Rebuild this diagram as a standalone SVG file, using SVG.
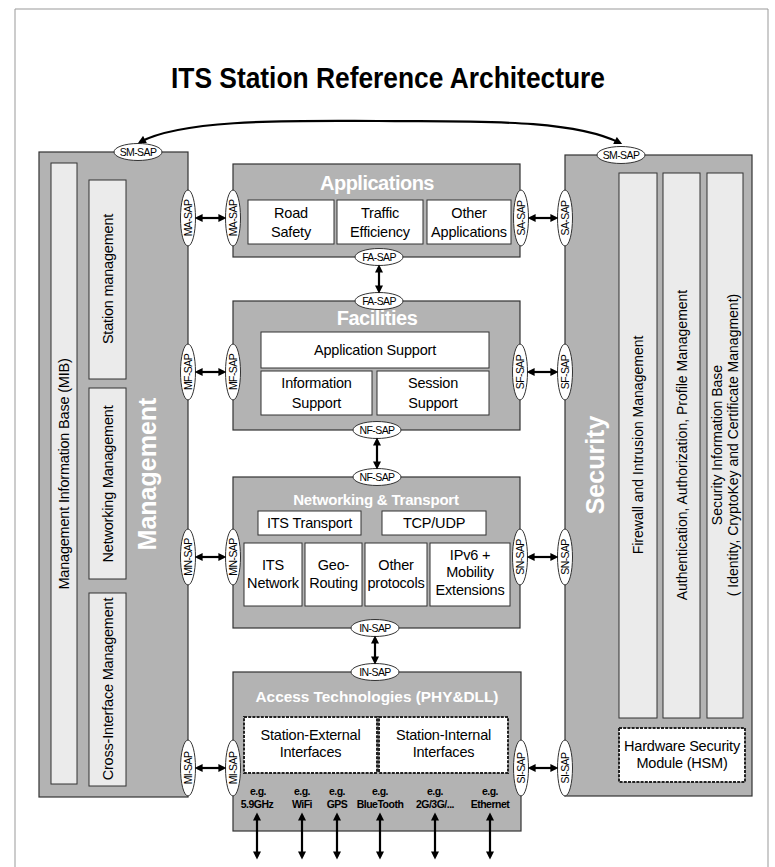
<svg xmlns="http://www.w3.org/2000/svg" width="775" height="867" viewBox="0 0 775 867">
<defs>
<marker id="ah" viewBox="0 0 10 10" refX="7" refY="5" markerWidth="9" markerHeight="8" markerUnits="userSpaceOnUse" orient="auto-start-reverse"><path d="M0,0 L10,5 L0,10 z" fill="#000"/></marker>
</defs>
<style>
text{font-family:"Liberation Sans",Arial,sans-serif;fill:#000}
.box{fill:#b3b3b3;stroke:#333;stroke-width:1.2}
.col{fill:#ebebeb;stroke:#333;stroke-width:1}
.wb{fill:#fff;stroke:#333;stroke-width:1}
.db{fill:#fff;stroke:#222;stroke-width:2;stroke-dasharray:3 1.2}
.sap{fill:#fff;stroke:#333;stroke-width:1}
.st{font-size:10.5px;text-anchor:middle;letter-spacing:-0.6px}
.t13{font-size:14.5px;text-anchor:middle;letter-spacing:-0.2px}
.t14{font-size:14px;text-anchor:middle}
.wt{font-weight:bold;text-anchor:middle;fill:#fff}
.eg{font-size:10.5px;font-weight:bold;text-anchor:middle;letter-spacing:-0.5px}
.con{stroke:#000;stroke-width:2.2;fill:none;marker-start:url(#ah);marker-end:url(#ah)}
</style>
<rect width="775" height="867" fill="#fff"/>
<path d="M15,867 V9 H768 V867" fill="none" stroke="#999" stroke-width="1"/>
<text x="388" y="88" font-size="30" font-weight="bold" text-anchor="middle" textLength="434" lengthAdjust="spacingAndGlyphs">ITS Station Reference Architecture</text>

<g id="management">
<rect class="box" x="39" y="152" width="149" height="645"/>
<rect class="col" x="51" y="163" width="26" height="621"/>
<text class="t13" transform="translate(64,474) rotate(-90)" y="5.2">Management Information Base (MIB)</text>
<rect class="col" x="89" y="180" width="37" height="199"/>
<text class="t13" transform="translate(107.5,279) rotate(-90)" y="5.2">Station management</text>
<rect class="col" x="89" y="388" width="37" height="191"/>
<text class="t13" transform="translate(107.5,484) rotate(-90)" y="5.2">Networking Management</text>
<rect class="col" x="89" y="593" width="37" height="193"/>
<text class="t13" transform="translate(107.5,689) rotate(-90)" y="5.2">Cross-Interface Management</text>
<text class="wt" font-size="25" transform="translate(147,474) rotate(-90)" y="9">Management</text>
</g>

<g id="security">
<rect class="box" x="565" y="155" width="187" height="641"/>
<rect class="col" x="619" y="173" width="38" height="545"/>
<text class="t14" transform="translate(638,445) rotate(-90)" y="5">Firewall and Intrusion Management</text>
<rect class="col" x="663" y="173" width="37" height="545"/>
<text class="t14" transform="translate(681.5,445) rotate(-90)" y="5">Authentication, Authorization, Profile Management</text>
<rect class="col" x="707" y="173" width="36" height="545"/>
<text class="t14" transform="translate(717,445) rotate(-90)" y="5">Security Information Base</text>
<text class="t14" transform="translate(733,445) rotate(-90)" y="5">( Identity, CryptoKey and Certificate Managment)</text>
<rect class="db" x="619" y="728" width="126" height="54"/>
<text class="t13" x="682" y="751">Hardware Security</text>
<text class="t13" x="682" y="768">Module (HSM)</text>
<text class="wt" font-size="25" transform="translate(595,465) rotate(-90)" y="9">Security</text>
</g>

<g id="applications">
<rect class="box" x="233" y="164" width="287" height="93"/>
<text class="wt" font-size="20" x="377" y="190" letter-spacing="-0.5">Applications</text>
<rect class="wb" x="248" y="200" width="86" height="44"/>
<text class="t13" x="291" y="218">Road</text>
<text class="t13" x="291" y="237">Safety</text>
<rect class="wb" x="337" y="200" width="86" height="44"/>
<text class="t13" x="380" y="218">Traffic</text>
<text class="t13" x="380" y="237">Efficiency</text>
<rect class="wb" x="427" y="200" width="84" height="44"/>
<text class="t13" x="469" y="218">Other</text>
<text class="t13" x="469" y="237">Applications</text>
</g>

<g id="facilities">
<rect class="box" x="233" y="301" width="287" height="129"/>
<text class="wt" font-size="20" x="377" y="325" letter-spacing="-0.5">Facilities</text>
<rect class="wb" x="261" y="332" width="228" height="36"/>
<text class="t13" x="375" y="355">Application Support</text>
<rect class="wb" x="261" y="371" width="111" height="44"/>
<text class="t13" x="316.5" y="388">Information</text>
<text class="t13" x="316.5" y="408">Support</text>
<rect class="wb" x="377" y="371" width="112" height="44"/>
<text class="t13" x="433" y="388">Session</text>
<text class="t13" x="433" y="408">Support</text>
</g>

<g id="networking">
<rect class="box" x="233" y="477" width="287" height="151"/>
<text class="wt" font-size="15" x="376" y="505" letter-spacing="-0.2">Networking &amp; Transport</text>
<rect class="wb" x="258" y="511" width="103" height="24"/>
<text class="t13" x="309.5" y="528">ITS Transport</text>
<rect class="wb" x="382" y="511" width="104" height="24"/>
<text class="t13" x="434" y="528">TCP/UDP</text>
<rect class="wb" x="244" y="543" width="58" height="63"/>
<text class="t13" x="273" y="570">ITS</text>
<text class="t13" x="273" y="588">Network</text>
<rect class="wb" x="305" y="543" width="57" height="63"/>
<text class="t13" x="333.5" y="570">Geo-</text>
<text class="t13" x="333.5" y="588">Routing</text>
<rect class="wb" x="365" y="543" width="62" height="63"/>
<text class="t13" x="396" y="570">Other</text>
<text class="t13" x="396" y="588">protocols</text>
<rect class="wb" x="430" y="543" width="80" height="63"/>
<text class="t13" x="470" y="560">IPv6 +</text>
<text class="t13" x="470" y="577">Mobility</text>
<text class="t13" x="470" y="595">Extensions</text>
</g>

<g id="access">
<rect class="box" x="233" y="672" width="288" height="159"/>
<text class="wt" font-size="15.5" x="377" y="702" textLength="243" lengthAdjust="spacingAndGlyphs">Access Technologies (PHY&amp;DLL)</text>
<rect class="db" x="244" y="717" width="133" height="56"/>
<text class="t13" x="310.5" y="740">Station-External</text>
<text class="t13" x="310.5" y="757">Interfaces</text>
<rect class="db" x="379" y="717" width="129" height="56"/>
<text class="t13" x="443.5" y="740">Station-Internal</text>
<text class="t13" x="443.5" y="757">Interfaces</text>
<text class="eg" x="258" y="795">e.g.</text><text class="eg" x="257" y="808">5.9GHz</text>
<text class="eg" x="302" y="795">e.g.</text><text class="eg" x="302" y="808">WiFi</text>
<text class="eg" x="337" y="795">e.g.</text><text class="eg" x="337" y="808">GPS</text>
<text class="eg" x="380" y="795">e.g.</text><text class="eg" x="380" y="808">BlueTooth</text>
<text class="eg" x="435" y="795">e.g.</text><text class="eg" x="435" y="808">2G/3G/...</text>
<text class="eg" x="490" y="795">e.g.</text><text class="eg" x="490" y="808">Ethernet</text>
</g>

<g id="saps">
<ellipse class="sap" cx="138" cy="152" rx="24" ry="8.5"/><text class="st" x="138" y="155.7">SM-SAP</text>
<ellipse class="sap" cx="621" cy="155" rx="24" ry="8.5"/><text class="st" x="621" y="158.7">SM-SAP</text>
<ellipse class="sap" cx="379" cy="257" rx="24" ry="8.5"/><text class="st" x="379" y="260.7">FA-SAP</text>
<ellipse class="sap" cx="379" cy="301" rx="24" ry="8.5"/><text class="st" x="379" y="304.7">FA-SAP</text>
<ellipse class="sap" cx="377" cy="430" rx="24" ry="8.5"/><text class="st" x="377" y="433.7">NF-SAP</text>
<ellipse class="sap" cx="377" cy="477" rx="24" ry="8.5"/><text class="st" x="377" y="480.7">NF-SAP</text>
<ellipse class="sap" cx="375" cy="628" rx="24" ry="8.5"/><text class="st" x="375" y="631.7">IN-SAP</text>
<ellipse class="sap" cx="375" cy="672" rx="24" ry="8.5"/><text class="st" x="375" y="675.7">IN-SAP</text>

<ellipse class="sap" cx="188" cy="218" rx="7.5" ry="28"/><text class="st" transform="translate(188,218) rotate(-90)" y="3.7">MA-SAP</text>
<ellipse class="sap" cx="233" cy="218" rx="7.5" ry="28"/><text class="st" transform="translate(233,218) rotate(-90)" y="3.7">MA-SAP</text>
<ellipse class="sap" cx="521" cy="218" rx="7.5" ry="28"/><text class="st" transform="translate(521,218) rotate(-90)" y="3.7">SA-SAP</text>
<ellipse class="sap" cx="565" cy="218" rx="7.5" ry="28"/><text class="st" transform="translate(565,218) rotate(-90)" y="3.7">SA-SAP</text>

<ellipse class="sap" cx="188" cy="372" rx="7.5" ry="28"/><text class="st" transform="translate(188,372) rotate(-90)" y="3.7">MF-SAP</text>
<ellipse class="sap" cx="233" cy="372" rx="7.5" ry="28"/><text class="st" transform="translate(233,372) rotate(-90)" y="3.7">MF-SAP</text>
<ellipse class="sap" cx="520" cy="372" rx="7.5" ry="28"/><text class="st" transform="translate(520,372) rotate(-90)" y="3.7">SF-SAP</text>
<ellipse class="sap" cx="565" cy="372" rx="7.5" ry="28"/><text class="st" transform="translate(565,372) rotate(-90)" y="3.7">SF-SAP</text>

<ellipse class="sap" cx="188" cy="557" rx="7.5" ry="28"/><text class="st" transform="translate(188,557) rotate(-90)" y="3.7">MN-SAP</text>
<ellipse class="sap" cx="233" cy="557" rx="7.5" ry="28"/><text class="st" transform="translate(233,557) rotate(-90)" y="3.7">MN-SAP</text>
<ellipse class="sap" cx="520" cy="557" rx="7.5" ry="28"/><text class="st" transform="translate(520,557) rotate(-90)" y="3.7">SN-SAP</text>
<ellipse class="sap" cx="565" cy="557" rx="7.5" ry="28"/><text class="st" transform="translate(565,557) rotate(-90)" y="3.7">SN-SAP</text>

<ellipse class="sap" cx="188" cy="768" rx="7.5" ry="28"/><text class="st" transform="translate(188,768) rotate(-90)" y="3.7">MI-SAP</text>
<ellipse class="sap" cx="233" cy="768" rx="7.5" ry="28"/><text class="st" transform="translate(233,768) rotate(-90)" y="3.7">MI-SAP</text>
<ellipse class="sap" cx="521" cy="768" rx="7.5" ry="28"/><text class="st" transform="translate(521,768) rotate(-90)" y="3.7">SI-SAP</text>
<ellipse class="sap" cx="565" cy="768" rx="7.5" ry="28"/><text class="st" transform="translate(565,768) rotate(-90)" y="3.7">SI-SAP</text>
</g>

<g id="connectors">
<path class="con" d="M140,142 C185,118 300,121 378,121 C470,122 570,118 620,143"/>
<path class="con" d="M197,218 H224"/>
<path class="con" d="M530,218 H556"/>
<path class="con" d="M379,267 V291"/>
<path class="con" d="M197,372 H224"/>
<path class="con" d="M529,372 H556"/>
<path class="con" d="M377,440 V467"/>
<path class="con" d="M197,557 H224"/>
<path class="con" d="M529,557 H556"/>
<path class="con" d="M375,638 V662"/>
<path class="con" d="M197,768 H224"/>
<path class="con" d="M530,768 H556"/>
<path class="con" d="M257,815 V857"/>
<path class="con" d="M302,815 V857"/>
<path class="con" d="M337,815 V857"/>
<path class="con" d="M380,815 V857"/>
<path class="con" d="M435,815 V857"/>
<path class="con" d="M490,815 V857"/>
</g>
</svg>
